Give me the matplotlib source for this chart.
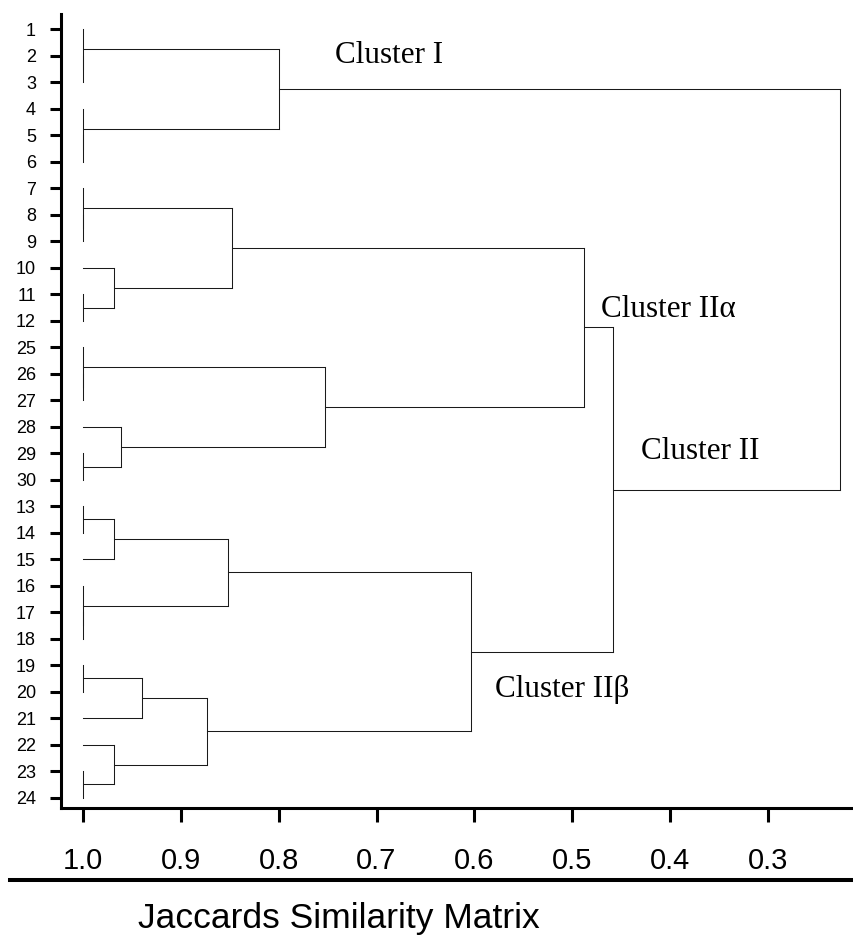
import matplotlib
matplotlib.use("Agg")
import matplotlib.pyplot as plt
from matplotlib.lines import Line2D
import numpy as np

# leaves in the order they appear, top to bottom
leaf_labels = [str(i) for i in range(1, 13)] + [str(i) for i in range(25, 31)] + [str(i) for i in range(13, 25)]

# (left node, right node, similarity) - leaves are 0..29, each merge gets the next id (30, 31, ...)
merges = [
    (1, 2, 1.0),      # 30
    (0, 30, 1.0),     # 31  1-3
    (4, 5, 1.0),      # 32
    (3, 32, 1.0),     # 33  4-6
    (31, 33, 0.800),  # 34  Cluster I
    (7, 8, 1.0),      # 35
    (6, 35, 1.0),     # 36  7-9
    (10, 11, 1.0),    # 37  11-12
    (9, 37, 0.968),   # 38  10-12
    (36, 38, 0.848),  # 39  7-12
    (13, 14, 1.0),    # 40
    (12, 40, 1.0),    # 41  25-27
    (16, 17, 1.0),    # 42  29-30
    (15, 42, 0.961),  # 43  28-30
    (41, 43, 0.753),  # 44  25-30
    (39, 44, 0.488),  # 45  Cluster II alpha
    (18, 19, 1.0),    # 46  13-14
    (46, 20, 0.968),  # 47  13-15
    (22, 23, 1.0),    # 48
    (21, 48, 1.0),    # 49  16-18
    (47, 49, 0.852),  # 50  13-18
    (24, 25, 1.0),    # 51  19-20
    (51, 26, 0.940),  # 52  19-21
    (28, 29, 1.0),    # 53  23-24
    (27, 53, 0.968),  # 54  22-24
    (52, 54, 0.873),  # 55  19-24
    (50, 55, 0.604),  # 56  Cluster II beta
    (45, 56, 0.459),  # 57  Cluster II
    (34, 57, 0.227),  # 58  all
]

x_ticks = [1.0, 0.9, 0.8, 0.7, 0.6, 0.5, 0.4, 0.3]
x_tick_labels = ["1.0", "0.9", "0.8", "0.7", "0.6", "0.5", "0.4", "0.3"]

cluster_names = ["Cluster I", "Cluster IIα", "Cluster II", "Cluster IIβ"]


def draw_dendrogram(ax):
    n = len(leaf_labels)
    xs = [1.0] * n
    ys = list(range(n))
    for a, b, sim in merges:
        for c in (a, b):
            ax.plot([xs[c], sim], [ys[c], ys[c]], color="#1a1a1a", lw=0.75)
        ax.plot([sim, sim], [ys[a], ys[b]], color="#1a1a1a", lw=0.75)
        xs.append(sim)
        ys.append((ys[a] + ys[b]) / 2)


def main():
    fig = plt.figure(figsize=(8.54, 9.35), dpi=100)
    ax = fig.add_axes([61 / 854, 127 / 935, 793 / 854, 794 / 935])

    draw_dendrogram(ax)

    ax.set_xlim(1.0222, 0.2125)
    ax.set_ylim(29.39, -0.58)

    for s in ["top", "right"]:
        ax.spines[s].set_visible(False)
    for s in ["left", "bottom"]:
        ax.spines[s].set_linewidth(2.2)

    ax.set_yticks(range(len(leaf_labels)))
    ax.set_yticklabels(leaf_labels, family=["Liberation Sans", "DejaVu Sans"], fontsize=13)
    ax.tick_params(axis="y", length=8, width=2.2, pad=10)

    ax.set_xticks(x_ticks)
    ax.set_xticklabels(x_tick_labels, family=["Liberation Sans Narrow", "Liberation Sans"], fontsize=21)
    ax.tick_params(axis="x", length=10, width=2.2, pad=18)

    # cluster names
    spots = [(0.742, 1.28), (0.471, 10.85), (0.430, 16.23), (0.579, 25.19)]
    for name, (x, y) in zip(cluster_names, spots):
        ax.text(x, y, name, family=["Liberation Serif", "DejaVu Serif"], fontsize=22.4,
                ha="left", va="baseline")

    # thick rule under tick labels + axis title
    fig.add_artist(Line2D([10 / 854, 1.0], [1 - 880 / 935] * 2, color="black", lw=2.9,
                          transform=fig.transFigure))
    fig.text(339 / 854, 1 - 928.3 / 935, "Jaccards Similarity Matrix",
             family=["Liberation Sans", "DejaVu Sans"], fontsize=25.5, ha="center", va="baseline")

    fig.savefig("out.png", dpi=100)
    plt.close(fig)


if __name__ == "__main__":
    main()
